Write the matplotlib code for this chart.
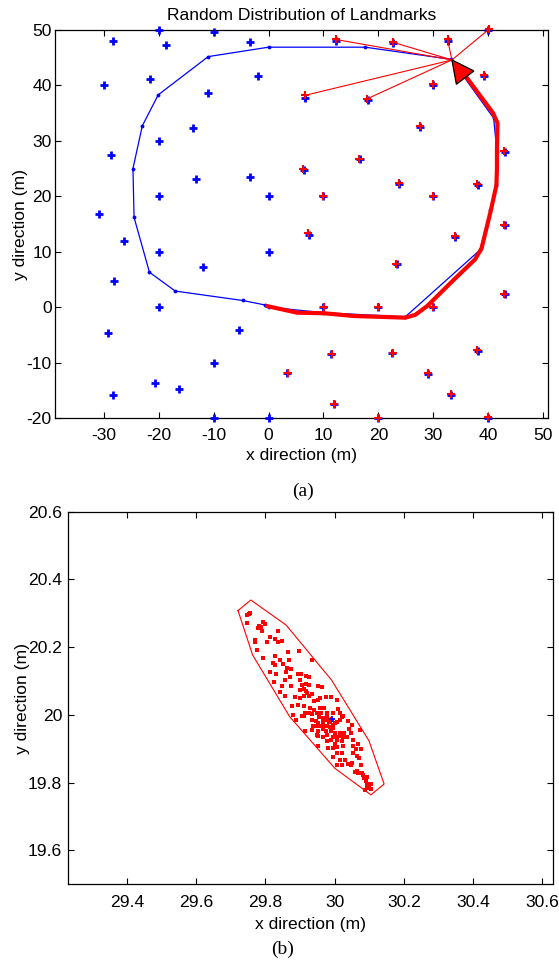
import matplotlib.pyplot as plt
import numpy as np
from matplotlib.patches import Polygon

plt.rcParams['font.family'] = ['Liberation Sans', 'DejaVu Sans']
plt.rcParams['axes.unicode_minus'] = False

# ---- (a) landmarks, true positions (blue)
lm_x = [-28.3, -20, -18.6, -9.9, -3.4, -30, -21.6, -11.1, -1.9, -13.7,
        -28.7, -20, -13.3, -3.4, -20, 0, -30.8, -26.4, -20, -12, 0, -28.2,
        -20, -5.3, -29.2, -10, -20.7, -16.3, -28.3, -10, 0,
        12.3, 22.7, 32.7, 40, 39.3, 30, 6.7, 18.1, 27.6, 43, 16.6, 6.4,
        23.8, 38.1, 10, 30, 43, 7.3, 34, 23.4, 43, 10, 20, 30, 11.4, 22.5,
        38.1, 3.3, 29, 33.3, 12, 20, 40]
lm_y = [48.0, 50, 47.3, 49.7, 47.9, 40, 41.2, 38.6, 41.7, 32.4,
        27.4, 30, 23.2, 23.4, 20, 20, 16.8, 12.0, 10, 7.2, 10, 4.7,
        0, -4.1, -4.6, -10, -13.6, -14.7, -15.9, -20, -20,
        48.0, 47.6, 48.1, 50, 41.7, 40, 37.7, 37.4, 32.5, 27.9, 26.7, 24.7,
        22.3, 22.1, 20, 20, 14.8, 13.1, 12.7, 7.8, 2.3, 0, 0, 0, -8.4, -8.3,
        -8.0, -11.8, -12, -15.9, -17.5, -20, -20]

# estimated landmarks (red)
est_x = [12.2, 22.6, 32.6, 40.1, 39.2, 30.0, 6.6, 18.0, 27.5, 42.9, 16.5,
         6.2, 23.7, 38.0, 9.9, 30.0, 42.9, 7.1, 33.9, 23.3, 42.9, 10.1,
         20.0, 30.0, 11.5, 22.6, 38.0, 3.5, 29.0, 33.3, 12.0, 20.0, 40.0]
est_y = [48.3, 47.8, 48.3, 50.1, 41.9, 40.2, 38.2, 37.6, 32.6, 28.1, 26.8,
         24.9, 22.4, 22.2, 20.0, 20.0, 14.9, 13.3, 12.8, 7.8, 2.4, 0.1,
         0.1, 0.1, -8.4, -8.2, -7.8, -11.8, -11.8, -15.7, -17.4, -20.0, -19.9]
obs_idx = [0, 1, 2, 3, 6, 7]

# waypoints (blue)
wp_x = [-0.7, -4.7, -17.0, -21.7, -24.5, -24.7, -23.0, -20.1, -11.0, 0.0,
        17.6, 33.3, 41.0, 41.6, 41.4, 40.4, 38.5, 24.9, 10.0, 0.0]
wp_y = [0.4, 1.2, 2.9, 6.3, 16.2, 25.0, 32.7, 38.3, 45.2, 46.9,
        46.9, 44.7, 34.1, 28.0, 22.0, 17.5, 10.3, -1.75, -1.0, 0.0]

# estimated vehicle path (red)
path_x = [-0.3, 5.2, 10.1, 15.5, 20.4, 24.9, 26.7, 28.9, 33.7, 37.6, 38.8,
          40.5, 41.5, 41.6, 41.6, 41.7, 40.9, 36.4, 35.2]
path_y = [0.2, -1.0, -1.1, -1.6, -1.75, -1.9, -1.4, 0.2, 4.9, 8.6, 10.6,
          17.5, 22.0, 25.0, 28.3, 33.2, 35.0, 41.0, 42.5]

veh_x, veh_y, veh_a = 33.4, 44.6, 127.0
veh_len, veh_w = 4.0, 2.0

# ---- (b) particles around landmark (30, 20)
part = [
    (29.746, 20.295), (29.752, 20.298), (29.756, 20.300), (29.746, 20.271),
    (29.781, 20.263), (29.787, 20.259), (29.793, 20.273), (29.798, 20.268),
    (29.779, 20.256), (29.789, 20.249), (29.771, 20.222), (29.769, 20.214),
    (29.806, 20.214), (29.812, 20.231), (29.827, 20.224), (29.836, 20.249),
    (29.836, 20.214), (29.847, 20.217), (29.776, 20.192), (29.866, 20.187),
    (29.897, 20.190), (29.793, 20.169), (29.827, 20.175), (29.841, 20.163),
    (29.851, 20.150), (29.868, 20.163), (29.936, 20.161), (29.822, 20.153),
    (29.827, 20.148), (29.862, 20.138), (29.875, 20.136), (29.812, 20.126),
    (29.831, 20.120), (29.860, 20.128), (29.894, 20.121), (29.904, 20.120),
    (29.917, 20.115), (29.926, 20.113), (29.824, 20.096), (29.858, 20.102),
    (29.872, 20.111), (29.899, 20.104), (29.916, 20.092), (29.875, 20.086),
    (29.907, 20.089), (29.925, 20.089), (29.848, 20.084), (29.899, 20.074),
    (29.911, 20.076), (29.917, 20.071), (29.952, 20.084), (29.964, 20.081),
    (29.841, 20.067), (29.858, 20.056), (29.921, 20.064), (29.926, 20.056),
    (29.911, 20.056), (29.936, 20.062), (29.974, 20.052), (29.991, 20.052),
    (29.959, 20.050), (29.885, 20.052), (29.901, 20.050), (29.941, 20.040),
    (29.952, 20.043), (30.006, 20.043), (29.876, 20.027), (29.893, 20.030),
    (29.911, 20.027), (29.928, 20.020), (29.940, 20.015), (29.959, 20.020),
    (29.969, 20.020), (29.926, 20.007), (29.914, 20.007), (29.911, 19.998),
    (29.906, 19.997), (29.880, 20.000), (29.889, 19.984), (29.936, 20.003),
    (29.948, 20.007), (29.962, 20.005), (29.977, 20.007), (29.994, 20.007),
    (30.011, 20.017), (30.015, 20.007), (30.020, 19.995), (30.025, 19.998),
    (29.954, 19.995), (29.967, 19.991), (29.979, 19.995), (29.936, 19.986),
    (29.946, 19.983), (29.951, 19.976), (29.967, 19.978), (29.975, 19.984),
    (29.983, 19.979), (29.994, 19.971), (30.001, 19.976), (30.008, 19.978),
    (30.015, 19.984), (30.040, 19.981), (30.049, 19.971), (29.938, 19.968),
    (29.948, 19.966), (29.959, 19.966), (29.967, 19.971), (29.977, 19.966),
    (29.986, 19.964), (29.996, 19.961), (29.936, 19.954), (29.952, 19.953),
    (29.967, 19.958), (29.975, 19.953), (29.991, 19.951), (30.001, 19.948),
    (30.015, 19.946), (30.027, 19.948), (30.043, 19.958), (30.046, 19.948),
    (29.915, 19.951), (29.948, 19.941), (29.953, 19.939), (29.967, 19.936),
    (29.977, 19.941), (29.996, 19.936), (30.004, 19.934), (30.015, 19.939),
    (30.025, 19.936), (30.037, 19.936), (29.991, 19.925), (30.006, 19.927),
    (30.020, 19.922), (29.977, 19.924), (30.001, 19.915), (30.025, 19.907),
    (30.054, 19.925), (30.072, 19.954), (29.952, 19.909), (29.980, 19.902),
    (29.994, 19.902), (30.006, 19.905), (30.052, 19.907), (30.067, 19.914),
    (30.062, 19.899), (30.076, 19.899), (30.006, 19.887), (30.020, 19.887),
    (29.994, 19.877), (30.054, 19.887), (30.064, 19.880), (30.030, 19.868),
    (30.040, 19.856), (30.015, 19.868), (30.006, 19.853), (30.020, 19.853),
    (30.046, 19.853), (30.049, 19.858), (30.071, 19.873), (30.077, 19.853),
    (30.064, 19.833), (30.069, 19.828), (30.080, 19.828), (30.083, 19.823),
    (30.086, 19.814), (30.059, 19.830), (30.093, 19.818), (30.090, 19.804),
    (30.093, 19.797), (30.098, 19.794), (30.105, 19.797), (30.095, 19.784),
    (30.106, 19.781), (30.088, 19.779)]
part_x = [p[0] for p in part]
part_y = [p[1] for p in part]

hull_x = [29.721, 29.758, 29.860, 29.991, 30.099, 30.143, 30.105, 30.001,
          29.870, 29.763, 29.721]
hull_y = [20.308, 20.339, 20.265, 20.103, 19.924, 19.796, 19.764, 19.842,
          19.995, 20.177, 20.308]

lmb_x, lmb_y = 29.993, 19.988
estb_x, estb_y = 29.990, 19.985

FS = 12.6


def style_axes(ax):
    ax.tick_params(direction='in', top=True, right=True, length=4,
                   width=0.8, labelsize=FS, colors='black')
    for s in ax.spines.values():
        s.set_linewidth(0.9)


def vehicle(x, y, a, L, W):
    d = np.array([np.cos(np.radians(a)), np.sin(np.radians(a))])
    p = np.array([-d[1], d[0]])
    tip = np.array([x, y])
    base = tip - L * d
    return np.array([tip, base + W * p, base - W * p])


fig = plt.figure(figsize=(5.59, 9.65), dpi=100)

# ---------------- (a)
ax = fig.add_axes([55 / 559, 1 - 418 / 965, 493 / 559, 388 / 965])
ax.plot(lm_x, lm_y, '+', color='blue', ms=6, mew=2.0, ls='none',
        clip_on=False, zorder=3)
ax.plot(wp_x, wp_y, '-', color='blue', lw=0.9, marker='.', ms=3.5, zorder=2)
ax.plot(path_x, path_y, '-', color='red', lw=3, solid_capstyle='round',
        solid_joinstyle='round', zorder=4)
ax.plot(est_x, est_y, '+', color='red', ms=5.5, mew=1.5, ls='none',
        clip_on=False, zorder=5)
for i in obs_idx:
    ax.plot([veh_x, est_x[i]], [veh_y, est_y[i]], '-', color='red', lw=0.8,
            zorder=5)
ax.add_patch(Polygon(vehicle(veh_x, veh_y, veh_a, veh_len, veh_w),
                     closed=True, facecolor='red', edgecolor='black',
                     lw=0.9, zorder=6))
ax.set_xlim(-38.9, 50.9)
ax.set_ylim(-20, 50)
ax.set_xticks(np.arange(-30, 51, 10))
ax.set_yticks(np.arange(-20, 51, 10))
ax.tick_params(axis='x', pad=7)
ax.tick_params(axis='y', pad=2.5)
style_axes(ax)
ax.set_title('Random Distribution of Landmarks', fontsize=FS, pad=7)
ax.set_xlabel('x direction (m)', fontsize=FS, labelpad=4)
ax.set_ylabel('y direction (m)', fontsize=FS, labelpad=-1.5)

# ---------------- (b)
bx = fig.add_axes([67.7 / 559, 1 - 884.3 / 965, 485 / 559, 372.7 / 965])
bx.plot(part_x, part_y, 's', color='red', ms=2.2, mew=0, ls='none')
bx.plot(hull_x, hull_y, '-', color='red', lw=0.8)
bx.plot([estb_x], [estb_y], '+', color='red', ms=5, mew=1.5)
bx.plot([lmb_x], [lmb_y], '+', color='blue', ms=5, mew=1.3)
bx.set_xlim(29.229, 30.63)
bx.set_ylim(19.5, 20.6)
bx.set_xticks([29.4, 29.6, 29.8, 30.0, 30.2, 30.4, 30.6])
bx.set_xticklabels(['29.4', '29.6', '29.8', '30', '30.2', '30.4', '30.6'])
bx.set_yticks([19.6, 19.8, 20.0, 20.2, 20.4, 20.6])
bx.set_yticklabels(['19.6', '19.8', '20', '20.2', '20.4', '20.6'])
bx.tick_params(axis='x', pad=8)
bx.tick_params(axis='y', pad=4)
style_axes(bx)
bx.set_xlabel('x direction (m)', fontsize=FS, labelpad=5)
bx.set_ylabel('y direction (m)', fontsize=FS, labelpad=-1.5)

fig.text(303 / 559, 1 - 491 / 965, '(a)', ha='center', va='center',
         family=['Liberation Serif', 'DejaVu Serif'], fontsize=14)
fig.text(283 / 559, 1 - 949 / 965, '(b)', ha='center', va='center',
         family=['Liberation Serif', 'DejaVu Serif'], fontsize=14)

fig.savefig('out.png', dpi=100)
